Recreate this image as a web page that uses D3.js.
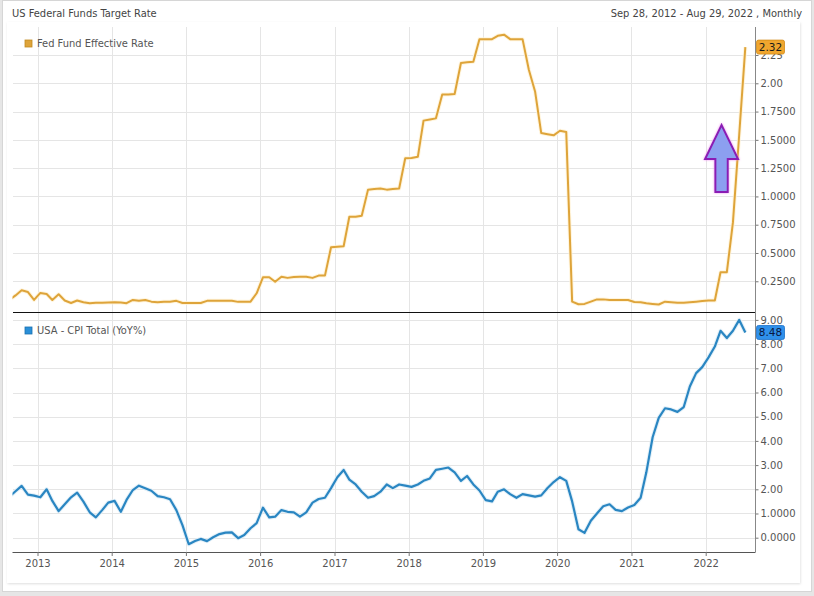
<!DOCTYPE html>
<html><head><meta charset="utf-8">
<script src="https://cdn.jsdelivr.net/npm/d3@7/dist/d3.min.js"></script>
<style>
html,body{margin:0;padding:0;background:#fff;}
svg{display:block;}
</style></head><body>
<svg id="c" width="814" height="596"></svg>
<script>
// ---------- data ----------
const titleText = "US Federal Funds Target Rate";
const rangeText = "Sep 28, 2012 - Aug 29, 2022 , Monthly";
const firstMonth = "2012-08-15";
const fedLabel = "Fed Fund Effective Rate";
const cpiLabel = "USA - CPI Total (YoY%)";

const fedRate = [
  0.085,0.125,0.17,0.155,0.085,
  0.147,0.138,0.085,0.135,0.08,0.058,0.08,0.065,0.056,0.06,0.06,0.062,
  0.065,0.062,0.056,0.085,0.077,0.085,0.07,0.065,0.068,0.07,0.077,0.058,
  0.058,0.058,0.058,0.077,0.077,0.077,0.077,0.077,0.068,0.068,0.07,0.144,
  0.285,0.285,0.246,0.29,0.28,0.288,0.29,0.29,0.28,0.30,0.30,0.55,
  0.555,0.56,0.82,0.82,0.83,1.06,1.065,1.07,1.06,1.065,1.07,1.337,
  1.34,1.35,1.67,1.68,1.69,1.90,1.90,1.905,2.18,2.185,2.19,2.39,
  2.39,2.39,2.42,2.43,2.39,2.39,2.39,2.12,1.925,1.56,1.55,1.54,
  1.58,1.57,0.07,0.047,0.05,0.07,0.09,0.09,0.085,0.085,0.085,0.085,
  0.067,0.065,0.056,0.05,0.045,0.07,0.065,0.06,0.06,0.065,0.07,0.075,
  0.08,0.08,0.33,0.33,0.77,1.55,2.32
];
const cpiYoY = [
  1.69,1.92,2.14,1.78,1.74,
  1.67,2.0,1.52,1.10,1.38,1.67,1.86,1.49,1.05,0.84,1.14,1.45,
  1.52,1.07,1.56,1.97,2.15,2.04,1.94,1.72,1.67,1.59,1.14,0.52,
  -0.27,-0.14,-0.05,-0.14,0.02,0.15,0.21,0.22,-0.02,0.11,0.39,0.60,
  1.24,0.84,0.87,1.14,1.07,1.05,0.87,1.05,1.45,1.6,1.65,2.05,
  2.5,2.8,2.4,2.2,1.9,1.65,1.72,1.9,2.2,2.05,2.2,2.15,
  2.1,2.2,2.35,2.45,2.8,2.85,2.9,2.7,2.35,2.55,2.2,1.95,
  1.55,1.5,1.9,2.0,1.8,1.65,1.8,1.75,1.7,1.75,2.05,2.3,
  2.5,2.35,1.5,0.35,0.2,0.7,1.0,1.3,1.38,1.15,1.1,1.25,
  1.35,1.65,2.7,4.15,4.95,5.35,5.3,5.2,5.4,6.25,6.8,7.05,
  7.45,7.9,8.55,8.25,8.55,9.0,8.48
];
const yearTicks = [2013,2014,2015,2016,2017,2018,2019,2020,2021,2022];
const fedTicks = [0.25,0.5,0.75,1.0,1.25,1.5,1.75,2.0,2.25];
const fedTickLabels = ["0.2500","0.5000","0.7500","1.0000","1.2500","1.5000","1.7500","2.00","2.25"];
const cpiTicks = [0,1,2,3,4,5,6,7,8,9];
const cpiTickLabels = ["0.0000","1.0000","2.00","3.00","4.00","5.00","6.00","7.00","8.00","9.00"];
const fedLast = "2.32";
const cpiLast = "8.48";
// annotation arrow (date, shaft bottom, head base, tip values)
const arrowDate = "2022-03-20";
const arrowValues = [1.04, 1.33, 1.63];

// ---------- build ----------
const parse = d3.timeParse("%Y-%m-%d");
const start = parse(firstMonth);
const dates = fedRate.map((_, i) => d3.timeMonth.offset(start, i));
const fedData = dates.map((d, i) => ({date: d, v: fedRate[i]}));
const cpiData = dates.map((d, i) => ({date: d, v: cpiYoY[i]}));

const W = 814, H = 596;
const L = 12.5, R = 755.5;
const topT = 26.5, topB = 312.5, botB = 552;

const x = d3.scaleTime().domain([new Date(2012,7,31), new Date(2022,8,3)]).range([L, R]);
const yTop = d3.scaleLinear().domain([-0.026, 2.502]).range([topB, topT]);
const yBot = d3.scaleLinear().domain([-0.591, 9.306]).range([botB, topB]);

const svg = d3.select("#c");
const FONT = "DejaVu Sans, sans-serif";
const FONTC = "'DejaVu Sans Condensed', 'DejaVu Sans', sans-serif";

const defs = svg.append("defs");
const sh = defs.append("filter").attr("id","sh").attr("x","-5%").attr("y","-5%").attr("width","110%").attr("height","110%");
sh.append("feDropShadow").attr("dx",0.5).attr("dy",1).attr("stdDeviation",1.2).attr("flood-color","#000").attr("flood-opacity",0.13);
const glow = defs.append("filter").attr("id","glow").attr("x","-30%").attr("y","-30%").attr("width","160%").attr("height","160%");
glow.append("feDropShadow").attr("dx",0).attr("dy",0).attr("stdDeviation",1.2).attr("flood-color","#f080f0").attr("flood-opacity",0.9);
defs.append("clipPath").attr("id","clipTop").append("rect").attr("x",L).attr("y",topT).attr("width",R-L).attr("height",topB-topT);
defs.append("clipPath").attr("id","clipBot").append("rect").attr("x",L).attr("y",topB).attr("width",R-L).attr("height",botB-topB);

// background / card
svg.append("rect").attr("width",W).attr("height",H).attr("fill","#e6e6e6");
svg.append("rect").attr("x",2.5).attr("y",0.5).attr("width",809).attr("height",591).attr("fill","#fff").attr("stroke","#d6d6d6");
svg.append("rect").attr("x",7).attr("y",22).attr("width",793).attr("height",561).attr("fill","#fff").attr("filter","url(#sh)");

// header
svg.append("text").attr("x",12).attr("y",16.5).attr("font-family",FONTC).attr("font-size",11).attr("fill","#444").text(titleText);
svg.append("text").attr("x",802).attr("y",16.5).attr("text-anchor","end").attr("font-family",FONTC).attr("font-size",11).attr("fill","#444").text(rangeText);

// grid
const grid = svg.append("g").attr("stroke","#e5e5e5").attr("stroke-width",1).attr("shape-rendering","crispEdges");
grid.selectAll("line.v").data(yearTicks).join("line")
  .attr("x1",d=>Math.round(x(new Date(d,0,1)))+0.5).attr("x2",d=>Math.round(x(new Date(d,0,1)))+0.5)
  .attr("y1",topT).attr("y2",botB);
grid.selectAll("line.ht").data(fedTicks).join("line").attr("class","ht")
  .attr("x1",L).attr("x2",R).attr("y1",d=>Math.round(yTop(d))+0.5).attr("y2",d=>Math.round(yTop(d))+0.5);
grid.selectAll("line.hb").data(cpiTicks).join("line").attr("class","hb")
  .attr("x1",L).attr("x2",R).attr("y1",d=>Math.round(yBot(d))+0.5).attr("y2",d=>Math.round(yBot(d))+0.5);

// lines
const lineTop = d3.line().x(d=>x(d.date)).y(d=>yTop(d.v));
const lineBot = d3.line().x(d=>x(d.date)).y(d=>yBot(d.v));
svg.append("path").datum(fedData).attr("clip-path","url(#clipTop)").attr("d",lineTop)
  .attr("fill","none").attr("stroke","#fff3d6").attr("stroke-width",4).attr("stroke-linejoin","round").attr("opacity",0.8);
svg.append("path").datum(fedData).attr("clip-path","url(#clipTop)").attr("d",lineTop)
  .attr("fill","none").attr("stroke","#dea43a").attr("stroke-width",2).attr("stroke-linejoin","round");
svg.append("path").datum(cpiData).attr("clip-path","url(#clipBot)").attr("d",lineBot)
  .attr("fill","none").attr("stroke","#dcecf6").attr("stroke-width",4.2).attr("stroke-linejoin","round").attr("opacity",0.8);
svg.append("path").datum(cpiData).attr("clip-path","url(#clipBot)").attr("d",lineBot)
  .attr("fill","none").attr("stroke","#2a86c2").attr("stroke-width",2.2).attr("stroke-linejoin","round");

// divider
svg.append("line").attr("x1",L).attr("x2",R).attr("y1",topB).attr("y2",topB).attr("stroke","#111").attr("stroke-width",1).attr("shape-rendering","crispEdges");

// right axes
const axTop = d3.axisRight(yTop).tickValues(fedTicks).tickSize(3).tickPadding(2).tickFormat((d,i)=>fedTickLabels[i]);
const axBot = d3.axisRight(yBot).tickValues(cpiTicks).tickSize(3).tickPadding(2).tickFormat((d,i)=>cpiTickLabels[i]);
function styleAxis(g){
  g.select(".domain").remove();
  g.selectAll(".tick line").attr("stroke","#777");
  g.selectAll(".tick text").attr("font-family",FONT).attr("font-size",10).attr("fill","#555");
}
svg.append("g").attr("transform",`translate(${R},0)`).call(axTop).call(styleAxis);
svg.append("g").attr("transform",`translate(${R},0)`).call(axBot).call(styleAxis);
svg.append("line").attr("x1",R).attr("x2",R).attr("y1",topT).attr("y2",botB).attr("stroke","#888").attr("shape-rendering","crispEdges");

// bottom axis
const axX = d3.axisBottom(x).tickValues(yearTicks.map(y=>new Date(y,0,1))).tickSize(4).tickPadding(4).tickFormat(d3.timeFormat("%Y"));
const gx = svg.append("g").attr("transform",`translate(0,${botB})`).call(axX);
gx.select(".domain").attr("stroke","#555").attr("d",`M${L},0.5H${R}`);
gx.selectAll(".tick line").attr("stroke","#777");
gx.selectAll(".tick text").attr("font-family",FONT).attr("font-size",10).attr("fill","#555");

// legends
function legend(yc, color, stroke, label){
  svg.append("rect").attr("x",25).attr("y",yc-3.5).attr("width",7).attr("height",7).attr("fill",color).attr("stroke",stroke).attr("stroke-width",0.8);
  svg.append("text").attr("x",37).attr("y",yc).attr("dy","0.35em").attr("font-family",FONTC).attr("font-size",11).attr("fill","#555").text(label);
}
legend(43.5, "#dea43a", "#c08a20", fedLabel);
legend(330.5, "#2a8fd8", "#1a70b0", cpiLabel);

// last value badges
function badge(yc, fill, stroke, txtColor, label){
  svg.append("rect").attr("x",756.5).attr("y",yc-7).attr("width",28).attr("height",14).attr("rx",2).attr("fill",fill).attr("stroke",stroke).attr("stroke-width",0.8);
  svg.append("text").attr("x",770.5).attr("y",yc).attr("dy","0.36em").attr("text-anchor","middle").attr("font-family",FONT).attr("font-size",10.5).attr("fill",txtColor).text(label);
}
badge(yTop(fedRate[fedRate.length-1]) , "#f0a62e", "#d08a18", "#1a1a1a", fedLast);
badge(yBot(cpiYoY[cpiYoY.length-1]) , "#2f90ea", "#1a70c8", "#0a1840", cpiLast);

// arrow annotation
const ax0 = x(parse(arrowDate));
const [vB, vH, vT] = arrowValues;
const pts = [
  [ax0-6.2, yTop(vB)], [ax0-6.2, yTop(vH)], [ax0-16.5, yTop(vH)], [ax0, yTop(vT)],
  [ax0+16.5, yTop(vH)], [ax0+6.2, yTop(vH)], [ax0+6.2, yTop(vB)]
];
svg.append("path").attr("d", d3.line()(pts) + "Z").attr("fill","#8c9ff0").attr("stroke","#8a1cb4").attr("stroke-width",2).attr("stroke-linejoin","miter").attr("filter","url(#glow)");
</script>
</body></html>
